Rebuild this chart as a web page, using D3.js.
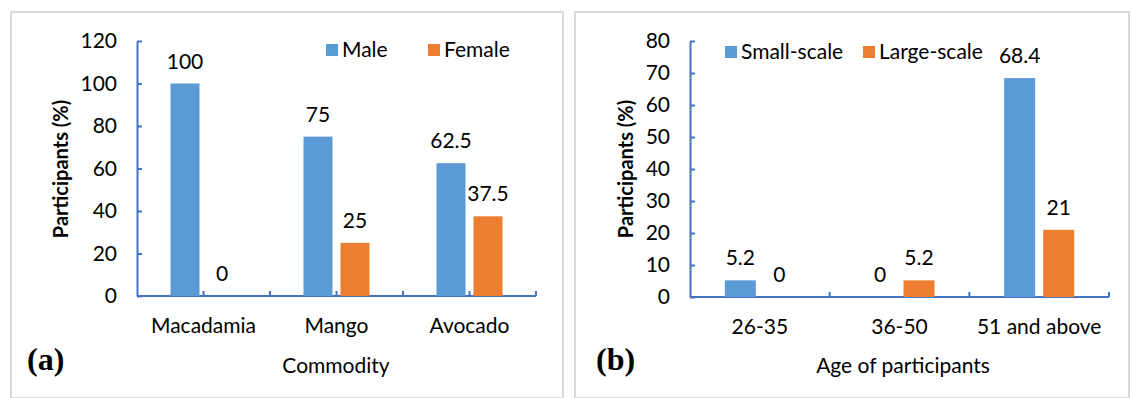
<!DOCTYPE html>
<meta charset="utf-8">
<style>
body { margin: 0; background: #fff; }
text { font-family: Lato, "Open Sans", sans-serif; fill: #000; }
.axis path, .axis line { stroke: #4472c4; stroke-width: 2px; }
.axis text { font-size: 21px; fill: #000; }
</style>
<svg width="1132" height="398"></svg>
<script src="https://cdn.jsdelivr.net/npm/d3@7"></script>
<script>
// panel (a)
var commodities = ["Macadamia", "Mango", "Avocado"];
var male = [100, 75, 62.5];
var female = [0, 25, 37.5];
var yTicksA = [0, 20, 40, 60, 80, 100, 120];

// panel (b)
var ages = ["26-35", "36-50", "51 and above"];
var smallScale = [5.2, 0, 68.4];
var largeScale = [0, 5.2, 21];
var yTicksB = [0, 10, 20, 30, 40, 50, 60, 70, 80];

var blue = "#5b9bd5", orange = "#ed7d31";
var svg = d3.select("svg");

function panel(o) {
  var g = svg.append("g");

  g.append("rect")
      .attr("x", o.box[0]).attr("y", o.box[1])
      .attr("width", o.box[2]).attr("height", o.box[3])
      .attr("fill", "none")
      .attr("stroke", "#d9d9d9")
      .attr("stroke-width", 2);

  var x = d3.scaleBand()
      .domain(o.cats)
      .range(o.xRange);
  var y = d3.scaleLinear()
      .domain([0, o.yMax])
      .range(o.yRange);

  // y axis, ticks pointing inward
  g.append("g")
      .attr("class", "axis")
      .attr("transform", "translate(" + o.xRange[0] + ",0)")
      .call(d3.axisLeft(y).tickValues(o.yTicks).tickSizeInner(-5).tickSizeOuter(0).tickPadding(20));

  // x axis labels
  var xa = g.append("g")
      .attr("class", "axis")
      .attr("transform", "translate(0," + o.yRange[0] + ")")
      .call(d3.axisBottom(x).tickSize(0).tickPadding(22));
  xa.select(".domain").remove();

  // x axis line and tick stubs
  g.append("line")
      .attr("x1", o.xRange[0]).attr("x2", o.xRange[1])
      .attr("y1", y(0)).attr("y2", y(0))
      .attr("stroke", "#4472c4").attr("stroke-width", 2);
  var stubs = [];
  o.cats.forEach(function(c) {
    stubs.push(x(c) + x.bandwidth());
    if (o.midTicks) stubs.push(x(c) + x.bandwidth() / 2);
  });
  g.selectAll(".stub").data(stubs).enter().append("line")
      .attr("x1", function(d) { return d; }).attr("x2", function(d) { return d; })
      .attr("y1", y(0)).attr("y2", y(0) - 5)
      .attr("stroke", "#4472c4").attr("stroke-width", 2);

  // bars
  var series = [{vals: o.s1, color: blue, off: -o.gap / 2 - o.bw},
                {vals: o.s2, color: orange, off: o.gap / 2}];
  series.forEach(function(s) {
    var bars = o.cats.map(function(c, i) { return {c: c, v: s.vals[i]}; });
    g.selectAll(null).data(bars).enter().append("rect")
        .attr("x", function(d) { return x(d.c) + x.bandwidth() / 2 + s.off; })
        .attr("y", function(d) { return y(d.v); })
        .attr("width", o.bw)
        .attr("height", function(d) { return y(0) - y(d.v); })
        .attr("fill", s.color);
    g.selectAll(null).data(bars).enter().append("text")
        .attr("x", function(d) { return x(d.c) + x.bandwidth() / 2 + s.off + o.bw / 2; })
        .attr("y", function(d) { return y(d.v) - 15; })
        .attr("text-anchor", "middle")
        .style("font-size", "21px")
        .text(function(d) { return d.v; });
  });

  // y title
  g.append("text")
      .attr("transform", "translate(" + o.yTitleX + "," + o.yTitleY + ") rotate(-90)")
      .attr("text-anchor", "middle")
      .style("font-size", "20px")
      .style("font-weight", "bold")
      .text("Participants (%)");

  // x title
  g.append("text")
      .attr("x", o.xTitleX).attr("y", 373)
      .attr("text-anchor", "middle")
      .style("font-size", "21px")
      .text(o.xTitle);

  // panel tag
  g.append("text")
      .attr("x", o.tagX).attr("y", 370)
      .style("font-family", "'Liberation Serif', 'DejaVu Serif', serif")
      .style("font-size", "32px")
      .style("font-weight", "bold")
      .text(o.tag);

  // legend
  o.legend.forEach(function(l, i) {
    g.append("rect")
        .attr("x", l.x).attr("y", o.legY - 6)
        .attr("width", 12).attr("height", 12)
        .attr("fill", i ? orange : blue);
    g.append("text")
        .attr("x", l.x + 16).attr("y", o.legY + 7)
        .style("font-size", "21px")
        .text(l.name);
  });
}

panel({
  box: [11, 12, 552, 386],
  cats: commodities, s1: male, s2: female,
  yMax: 120, yTicks: yTicksA,
  xRange: [137, 536], yRange: [296, 41],
  bw: 29, gap: 8, midTicks: true,
  yTitleX: 68, yTitleY: 169,
  xTitle: "Commodity", xTitleX: 336,
  tag: "(a)", tagX: 27,
  legY: 50,
  legend: [{x: 326, name: "Male"}, {x: 428, name: "Female"}]
});

panel({
  box: [575, 12, 554, 386],
  cats: ages, s1: smallScale, s2: largeScale,
  yMax: 80, yTicks: yTicksB,
  xRange: [690, 1109], yRange: [297, 41],
  bw: 31, gap: 8, midTicks: false,
  yTitleX: 633, yTitleY: 169,
  xTitle: "Age of participants", xTitleX: 903,
  tag: "(b)", tagX: 596,
  legY: 52,
  legend: [{x: 725, name: "Small-scale"}, {x: 863, name: "Large-scale"}]
});
</script>
